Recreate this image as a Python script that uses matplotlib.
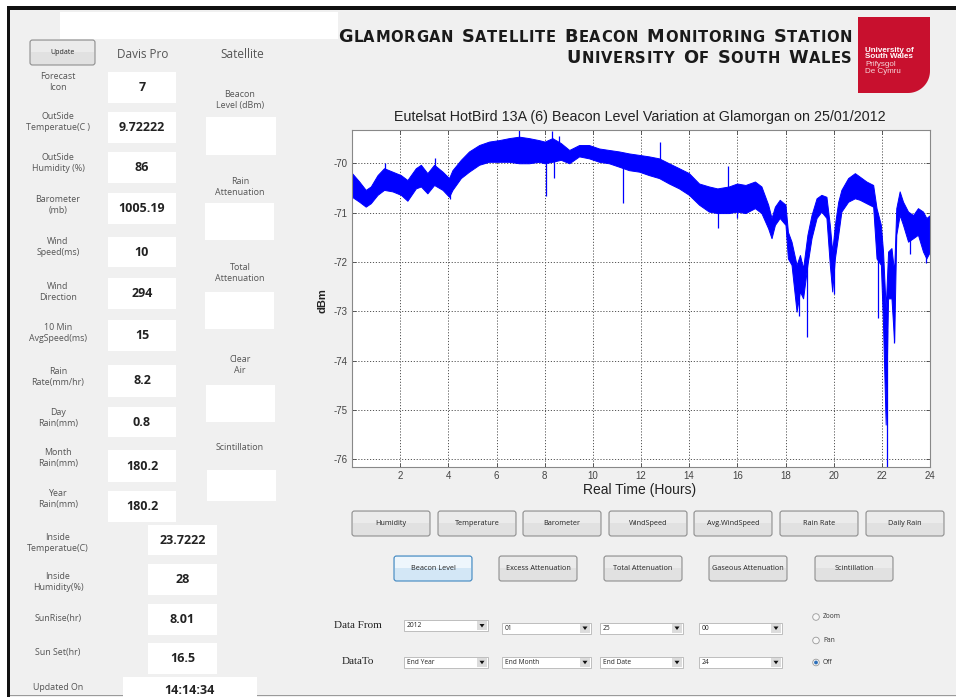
import numpy as np
import matplotlib
matplotlib.use('Agg')
import matplotlib.pyplot as plt
from matplotlib.patches import Rectangle, FancyBboxPatch, Circle, Polygon

# ---------------- data ----------------
hours = [0, 0.3, 0.57, 0.78, 1.06, 1.33, 1.68, 2.03, 2.3, 2.65, 2.86, 3.13, 3.41, 3.76,
         4.03, 4.17, 4.52, 4.86, 5.28, 5.69, 6.11, 6.52, 6.94, 7.35, 7.76, 8.0, 8.32,
         8.67, 9.02, 9.43, 9.84, 10.26, 10.67, 11.09, 11.5, 11.92, 12.33, 12.75, 13.16,
         13.58, 13.99, 14.41, 14.82, 15.17, 15.65, 15.99, 16.34, 16.73, 17.0, 17.28,
         17.42, 17.56, 17.76, 18.0, 18.1, 18.25, 18.46, 18.6, 18.73, 18.91, 19.08,
         19.29, 19.49, 19.7, 19.84, 19.94, 20.05, 20.19, 20.32, 20.6, 20.88, 21.08,
         21.36, 21.64, 21.78, 21.96, 22.05, 22.16, 22.26, 22.4, 22.51, 22.6, 22.74,
         22.88, 23.09, 23.3, 23.5, 23.71, 23.85, 24.0]
upper = [-70.20, -70.37, -70.54, -70.47, -70.24, -70.10, -70.17, -70.24, -70.34, -70.10,
         -70.03, -70.20, -70.03, -70.17, -70.30, -70.14, -69.93, -69.76, -69.63, -69.56,
         -69.53, -69.49, -69.46, -69.49, -69.53, -69.56, -69.49, -69.59, -69.73, -69.63,
         -69.63, -69.70, -69.73, -69.76, -69.80, -69.83, -69.86, -69.90, -70.00, -70.10,
         -70.20, -70.41, -70.47, -70.51, -70.47, -70.41, -70.44, -70.37, -70.47, -70.84,
         -71.11, -70.88, -70.74, -70.84, -71.39, -71.59, -72.06, -71.86, -72.13, -71.45,
         -71.05, -70.71, -70.64, -70.68, -71.25, -71.79, -71.25, -70.78, -70.54, -70.30,
         -70.20, -70.27, -70.37, -70.44, -70.91, -71.25, -71.79, -72.94, -71.79, -71.72,
         -72.20, -70.91, -70.57, -70.78, -70.98, -71.05, -70.91, -70.98, -71.11, -71.05]
lower = [-70.68, -70.78, -70.88, -70.81, -70.64, -70.54, -70.57, -70.64, -70.76, -70.51,
         -70.47, -70.61, -70.44, -70.54, -70.68, -70.54, -70.30, -70.17, -70.03, -69.97,
         -69.97, -69.97, -70.00, -70.00, -69.97, -70.00, -69.97, -69.93, -70.00, -69.86,
         -69.90, -69.97, -70.00, -70.07, -70.14, -70.17, -70.24, -70.30, -70.41, -70.51,
         -70.64, -70.84, -70.98, -71.01, -71.01, -70.98, -71.01, -70.91, -71.01, -71.32,
         -71.52, -71.25, -71.11, -71.25, -71.93, -72.06, -73.01, -72.60, -72.74, -72.06,
         -71.52, -71.11, -70.98, -71.11, -72.06, -72.60, -71.93, -71.45, -70.98, -70.78,
         -70.71, -70.74, -70.81, -70.88, -71.93, -72.06, -73.28, -75.30, -72.74, -72.74,
         -73.61, -71.45, -71.05, -71.25, -71.59, -71.52, -71.45, -71.79, -71.93, -71.79]
spike_hours = [1.35, 3.45, 6.95, 8.3, 8.6, 12.8, 15.6,
               4.05, 8.05, 8.38, 11.25, 15.2, 16.0, 18.55, 18.88, 20.0, 21.84, 22.2,
               22.5, 23.17, 23.84]
spike_values = [-69.99, -69.90, -69.32, -69.34, -69.45, -69.57, -70.05,
                -70.72, -70.66, -70.30, -70.81, -71.32, -71.10, -73.10, -73.53, -72.65,
                -73.13, -76.15, -73.64, -71.84, -72.03]

xticks = [2, 4, 6, 8, 10, 12, 14, 16, 18, 20, 22, 24]
yticks = [-76, -75, -74, -73, -72, -71, -70]

plot_title = "Eutelsat HotBird 13A (6) Beacon Level Variation at Glamorgan on 25/01/2012"
header_line1 = "GLAMORGAN SATELLITE BEACON MONITORING STATION"
header_line2 = "UNIVERSITY OF SOUTH WALES"
logo_lines = ["University of", "South Wales", "Prifysgol", "De Cymru"]

station_labels = ["Forecast\nIcon", "OutSide\nTemperatue(C )", "OutSide\nHumidity (%)",
                  "Barometer\n(mb)", "Wind\nSpeed(ms)", "Wind\nDirection",
                  "10 Min\nAvgSpeed(ms)", "Rain\nRate(mm/hr)", "Day\nRain(mm)",
                  "Month\nRain(mm)", "Year\nRain(mm)", "Inside\nTemperatue(C)",
                  "Inside\nHumidity(%)", "SunRise(hr)", "Sun Set(hr)", "Updated On"]
station_values = ["7", "9.72222", "86", "1005.19", "10", "294", "15", "8.2", "0.8",
                  "180.2", "180.2", "23.7222", "28", "8.01", "16.5", "14:14:34"]
satellite_labels = ["Beacon\nLevel (dBm)", "Rain\nAttenuation", "Total\nAttenuation",
                    "Clear\nAir", "Scintillation"]
row1_buttons = ["Humidity", "Temperature", "Barometer", "WindSpeed", "Avg.WindSpeed",
                "Rain Rate", "Daily Rain"]
row2_buttons = ["Beacon Level", "Excess Attenuation", "Total Attenuation",
                "Gaseous Attenuation", "Scintillation"]
from_values = ["2012", "01", "25", "00"]
to_values = ["End Year", "End Month", "End Date", "24"]
radio_labels = ["Zoom", "Pan", "Off"]

# ---------------- layout (pixels) ----------------
W, H = 956, 697
label_y = [82, 122, 163, 205, 247, 292, 333, 377, 418, 458, 499, 543, 582, 618, 653, 687]
value_boxes = [(108, 176, 72, 103), (108, 176, 112, 143), (108, 176, 152, 183),
               (108, 176, 193, 224), (108, 176, 237, 267), (108, 176, 278, 309),
               (108, 176, 320, 351), (108, 176, 365, 397), (108, 176, 407, 437),
               (108, 176, 450, 482), (108, 176, 491, 522), (148, 217, 525, 555),
               (148, 217, 564, 595), (148, 217, 604, 635), (148, 217, 643, 674),
               (123, 257, 677, 700)]
sat_label_y = [100, 187, 273, 365, 447]
sat_boxes = [(206, 276, 117, 155), (205, 274, 203, 240), (205, 274, 292, 329),
             (206, 275, 385, 422), (207, 276, 470, 501)]
row1_x = [352, 438, 523, 609, 694, 780, 866]
row2_x = [394, 499, 604, 709, 815]
dd_x = [(404, 488), (502, 591), (600, 683), (699, 782)]

UI = 'Open Sans'
PL = 'Liberation Sans'

fig = plt.figure(figsize=(W / 100, H / 100), dpi=100, facecolor='white')
bg = fig.add_axes([0, 0, 1, 1])
bg.set_xlim(0, W)
bg.set_ylim(H, 0)
bg.axis('off')

# window background and borders
bg.add_patch(Rectangle((8, 7), W - 8, H - 7, fc='#f0f0f0', ec='none'))
bg.add_patch(Rectangle((7, 6), W - 7, 3.5, fc='#111111', ec='none'))
bg.add_patch(Rectangle((7, 6), 3.5, H - 6, fc='#111111', ec='none'))
bg.add_patch(Rectangle((10, 694.5), W - 10, 1.6, fc='#9a9a9a', ec='none'))
bg.add_patch(Rectangle((60, 12), 278, 27, fc='white', ec='none'))


def button(x0, x1, y0, y1, text, fs=5.2, active=False):
    fc = '#d3e7f6' if active else '#e1e1e1'
    ec = '#3f86c0' if active else '#8f8f8f'
    bg.add_patch(FancyBboxPatch((x0, y0), x1 - x0, y1 - y0,
                                boxstyle='round,pad=0,rounding_size=2.5',
                                fc=fc, ec=ec, lw=0.8))
    bg.add_patch(Rectangle((x0 + 1, y0 + 1), x1 - x0 - 2, (y1 - y0) * 0.45,
                           fc='#eef6fc' if active else '#ebebeb', ec='none'))
    bg.text((x0 + x1) / 2, (y0 + y1) / 2, text, fontsize=fs, family=UI,
            ha='center', va='center', color='#222222')


button(30, 95, 40, 65, "Update", fs=5.0)
bg.text(143, 55, "Davis Pro", fontsize=8.5, family=UI, ha='center', va='center',
        color='#555555')
bg.text(242, 55, "Satellite", fontsize=8.5, family=UI, ha='center', va='center',
        color='#555555')

for lab, ly in zip(station_labels, label_y):
    bg.text(58, ly, lab, fontsize=6.4, family=UI, ha='center', va='center',
            color='#555555', linespacing=1.2)
for val, (x0, x1, y0, y1) in zip(station_values, value_boxes):
    bg.add_patch(Rectangle((x0, y0), x1 - x0, y1 - y0, fc='white', ec='none'))
    cy = (y0 + y1) / 2 if y1 < 698 else 690
    bg.text((x0 + x1) / 2, cy, val, fontsize=9, family=UI, weight='bold',
            ha='center', va='center', color='#222222')

for lab, ly, (x0, x1, y0, y1) in zip(satellite_labels, sat_label_y, sat_boxes):
    bg.text(240, ly, lab, fontsize=6.4, family=UI, ha='center', va='center',
            color='#555555', linespacing=1.2)
    bg.add_patch(Rectangle((x0, y0), x1 - x0, y1 - y0, fc='white', ec='none'))


# header (small caps emulation, letter by letter)
def small_caps(x, y, s, big, small, fam='DejaVu Sans'):
    items = []
    prev = None
    for wi, word in enumerate(s.split(' ')):
        for ci, ch in enumerate(word):
            size = big if ci == 0 else small
            if prev is None:
                t = bg.text(x, y, ch, fontsize=size, va='baseline', ha='left',
                            family=fam, weight='bold', color='#1a1a1a')
                kind = 'start'
            else:
                t = bg.annotate(ch, xy=(1, y), xycoords=(prev, bg.transData),
                                xytext=(0, 0), textcoords='offset points',
                                fontsize=size, va='baseline', ha='left', family=fam,
                                weight='bold', color='#1a1a1a')
                kind = 'word' if ci == 0 else 'char'
            items.append((t, kind))
            prev = t
    return items


t1 = small_caps(338, 42, header_line1, 12.8, 10.6)
t2 = small_caps(572, 63, header_line2, 12.8, 10.6)
fig.canvas.draw()
inv = bg.transData.inverted()


def extent(items):
    r = fig.canvas.get_renderer()
    x0 = inv.transform(items[0][0].get_window_extent(r).p0)[0]
    x1 = inv.transform(items[-1][0].get_window_extent(r).p1)[0]
    return x0, x1


a, b = extent(t1)
n_char = sum(1 for _, k in t1 if k == 'char')
n_word = sum(1 for _, k in t1 if k == 'word')
SPACE = 8.0
gap_px = (852 - 338 - (b - a) - n_word * SPACE) / (n_char + n_word)
for items in (t1, t2):
    for t, k in items:
        if k == 'char':
            t.xyann = (gap_px * 0.72, 0)
        elif k == 'word':
            t.xyann = ((SPACE + gap_px) * 0.72, 0)
fig.canvas.draw()
a2, b2 = extent(t2)
t2[0][0].set_x(t2[0][0].get_position()[0] + (852 - b2))

# logo
r = 22
ang = np.linspace(0, np.pi / 2, 20)
pts = [(858, 17), (930, 17), (930, 93 - r)]
pts += [(930 - r + r * np.cos(t), 93 - r + r * np.sin(t)) for t in ang]
pts += [(858, 93)]
bg.add_patch(Polygon(pts, closed=True, fc='#c8102e', ec='none'))
for i, (ln, ly) in enumerate(zip(logo_lines, [50, 57, 64.5, 71.5])):
    bg.text(865, ly, ln, fontsize=5.8, family=PL, weight='bold' if i < 2 else 'normal',
            color='white' if i < 2 else '#f6d6da', ha='left', va='center')

# plot texts
bg.text(640, 117, plot_title, fontsize=10.3, family=PL, ha='center', va='center',
        color='#222222')
bg.text(640, 490, "Real Time (Hours)", fontsize=10, family=PL, ha='center',
        va='center', color='#222222')
bg.text(323, 301, "dBm", fontsize=8, family=PL, weight='bold', rotation=90,
        ha='center', va='center', color='#222222')

# buttons
for name, x0 in zip(row1_buttons, row1_x):
    button(x0, x0 + 78, 511, 536, name)
for i, (name, x0) in enumerate(zip(row2_buttons, row2_x)):
    button(x0, x0 + 78, 556, 581, name, active=(i == 0))


def dropdown(x0, x1, y0, y1, text):
    bg.add_patch(Rectangle((x0, y0), x1 - x0, y1 - y0, fc='white', ec='#b5b5b5', lw=0.6))
    bg.add_patch(Rectangle((x1 - 11, y0 + 1), 10, y1 - y0 - 2, fc='#dcdcdc', ec='none'))
    cx, cy = x1 - 6, (y0 + y1) / 2
    bg.add_patch(Polygon([(cx - 2.5, cy - 1.5), (cx + 2.5, cy - 1.5), (cx, cy + 2)],
                         closed=True, fc='#111111', ec='none'))
    bg.text(x0 + 3, cy, text, fontsize=4.8, family=UI, ha='left', va='center',
            color='#222222')


bg.text(358, 625, "Data From", fontsize=8, family='Liberation Serif', ha='center',
        va='center', color='#222222')
bg.text(358, 662, "DataTo", fontsize=8, family='Liberation Serif', ha='center',
        va='center', color='#222222')
for i, ((x0, x1), v) in enumerate(zip(dd_x, from_values)):
    y0 = 620 if i == 0 else 622.5
    dropdown(x0, x1, y0, y0 + 11, v)
for (x0, x1), v in zip(dd_x, to_values):
    dropdown(x0, x1, 656.5, 668, v)

for i, (lab, ry) in enumerate(zip(radio_labels, [617, 640.5, 662.5])):
    bg.add_patch(Circle((816, ry), 3.3, fc='#f7f7f7', ec='#9a9a9a', lw=0.6))
    if i == 2:
        bg.add_patch(Circle((816, ry), 1.9, fc='#2d6fb8', ec='none'))
    bg.text(823, ry, lab, fontsize=4.8, family=UI, ha='left', va='center',
            color='#333333')

# ---------------- plot ----------------
ax = fig.add_axes([352 / W, 1 - 467 / H, 578 / W, 337 / H])
ax.set_facecolor('white')
hrs = np.array(hours)
up = np.array(upper)
lo = np.array(lower)
ax.fill_between(hrs, lo, up, color='#0000ff', lw=0.7)
mid = (up + lo) / 2
ax.vlines(spike_hours, np.interp(spike_hours, hrs, mid), spike_values,
          color='#0000ff', lw=0.9)
ax.set_xlim(0, 24)
ax.set_ylim(-76.16, -69.325)
ax.set_xticks(xticks)
ax.set_yticks(yticks)
ax.set_xticklabels([str(v) for v in xticks])
ax.set_yticklabels([str(v) for v in yticks])
ax.grid(True, ls=(0, (1.2, 1.8)), color='#555555', lw=0.7)
ax.set_axisbelow(True)
ax.tick_params(direction='in', length=3, width=0.6, labelsize=7, colors='#444444',
               top=True, right=True, pad=3)
for lbl in ax.get_xticklabels() + ax.get_yticklabels():
    lbl.set_family(PL)
for s in ax.spines.values():
    s.set_color('#888888')
    s.set_linewidth(0.8)

fig.savefig('out.png', dpi=100, facecolor='white')
